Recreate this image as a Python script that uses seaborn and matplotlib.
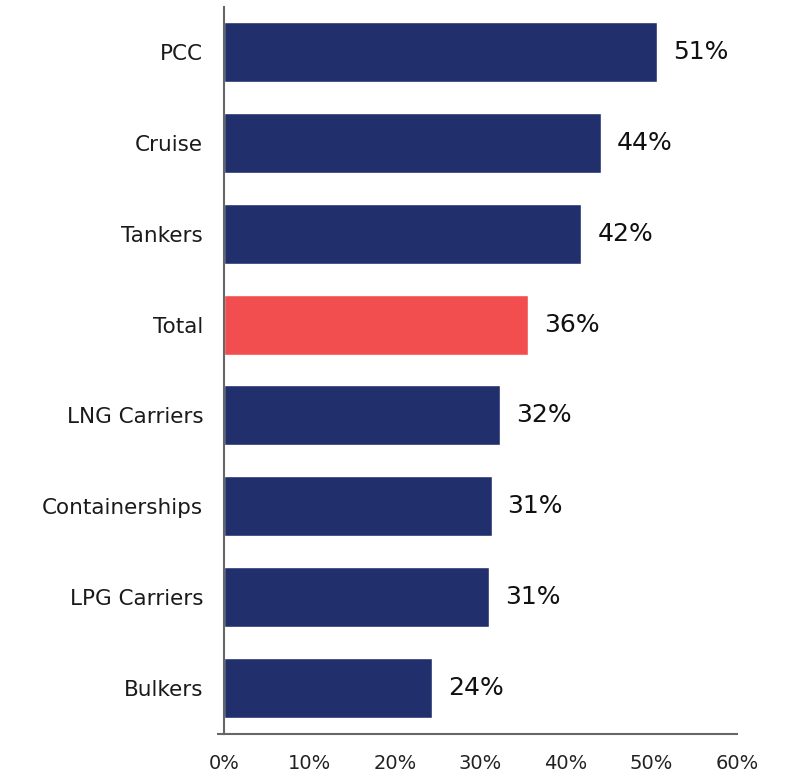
import matplotlib
matplotlib.use("Agg")
import matplotlib.pyplot as plt
import seaborn as sns
import pandas as pd

categories = ["PCC", "Cruise", "Tankers", "Total", "LNG Carriers",
              "Containerships", "LPG Carriers", "Bulkers"]
values = [50.6, 44.1, 41.8, 35.6, 32.3, 31.3, 31.0, 24.3]
labels = ["51%", "44%", "42%", "36%", "32%", "31%", "31%", "24%"]
x_ticks = [0, 10, 20, 30, 40, 50, 60]
x_tick_labels = ["0%", "10%", "20%", "30%", "40%", "50%", "60%"]

NAVY = "#21306D"
RED = "#F24E4F"

sns.set_theme(style="white")
plt.rcParams["font.family"] = ["DejaVu Sans"]

df = pd.DataFrame({"cat": categories, "val": values,
                   "grp": ["total" if c == "Total" else "other" for c in categories]})

fig = plt.figure(figsize=(7.9, 7.77), dpi=100)
ax = fig.add_axes([224/790, 1-733.5/777, (737-224)/790, (733.5-6.5)/777])

sns.barplot(data=df, x="val", y="cat", hue="grp", orient="h",
            palette={"other": NAVY, "total": RED}, width=0.66,
            dodge=False, legend=False, ax=ax, saturation=1)

for i, (v, lab) in enumerate(zip(values, labels)):
    ax.annotate(lab, xy=(v, i), xytext=(16, 0), textcoords="offset pixels",
                ha="left", va="center", fontsize=18, color="#111111")

ax.set_xlim(0, 60)
ax.set_ylim(7.5, -0.5)
ax.set_xticks(x_ticks)
ax.set_xticklabels(x_tick_labels, fontsize=14, color="#222222")
ax.tick_params(axis="y", labelsize=15.5, labelcolor="#1a1a1a", pad=15, length=0)
ax.tick_params(axis="x", pad=15, length=0)
ax.set_xlabel("")
ax.set_ylabel("")
for s in ["top", "right"]:
    ax.spines[s].set_visible(False)
for s in ["left", "bottom"]:
    ax.spines[s].set_color("#666666")
    ax.spines[s].set_linewidth(1.5)
# small extension of the bottom axis line to the left of the y axis
ax.plot([-7/513, 0], [0, 0], transform=ax.transAxes, color="#666666",
        lw=1.5, clip_on=False, solid_capstyle="butt")

fig.savefig("out.png", dpi=100)
